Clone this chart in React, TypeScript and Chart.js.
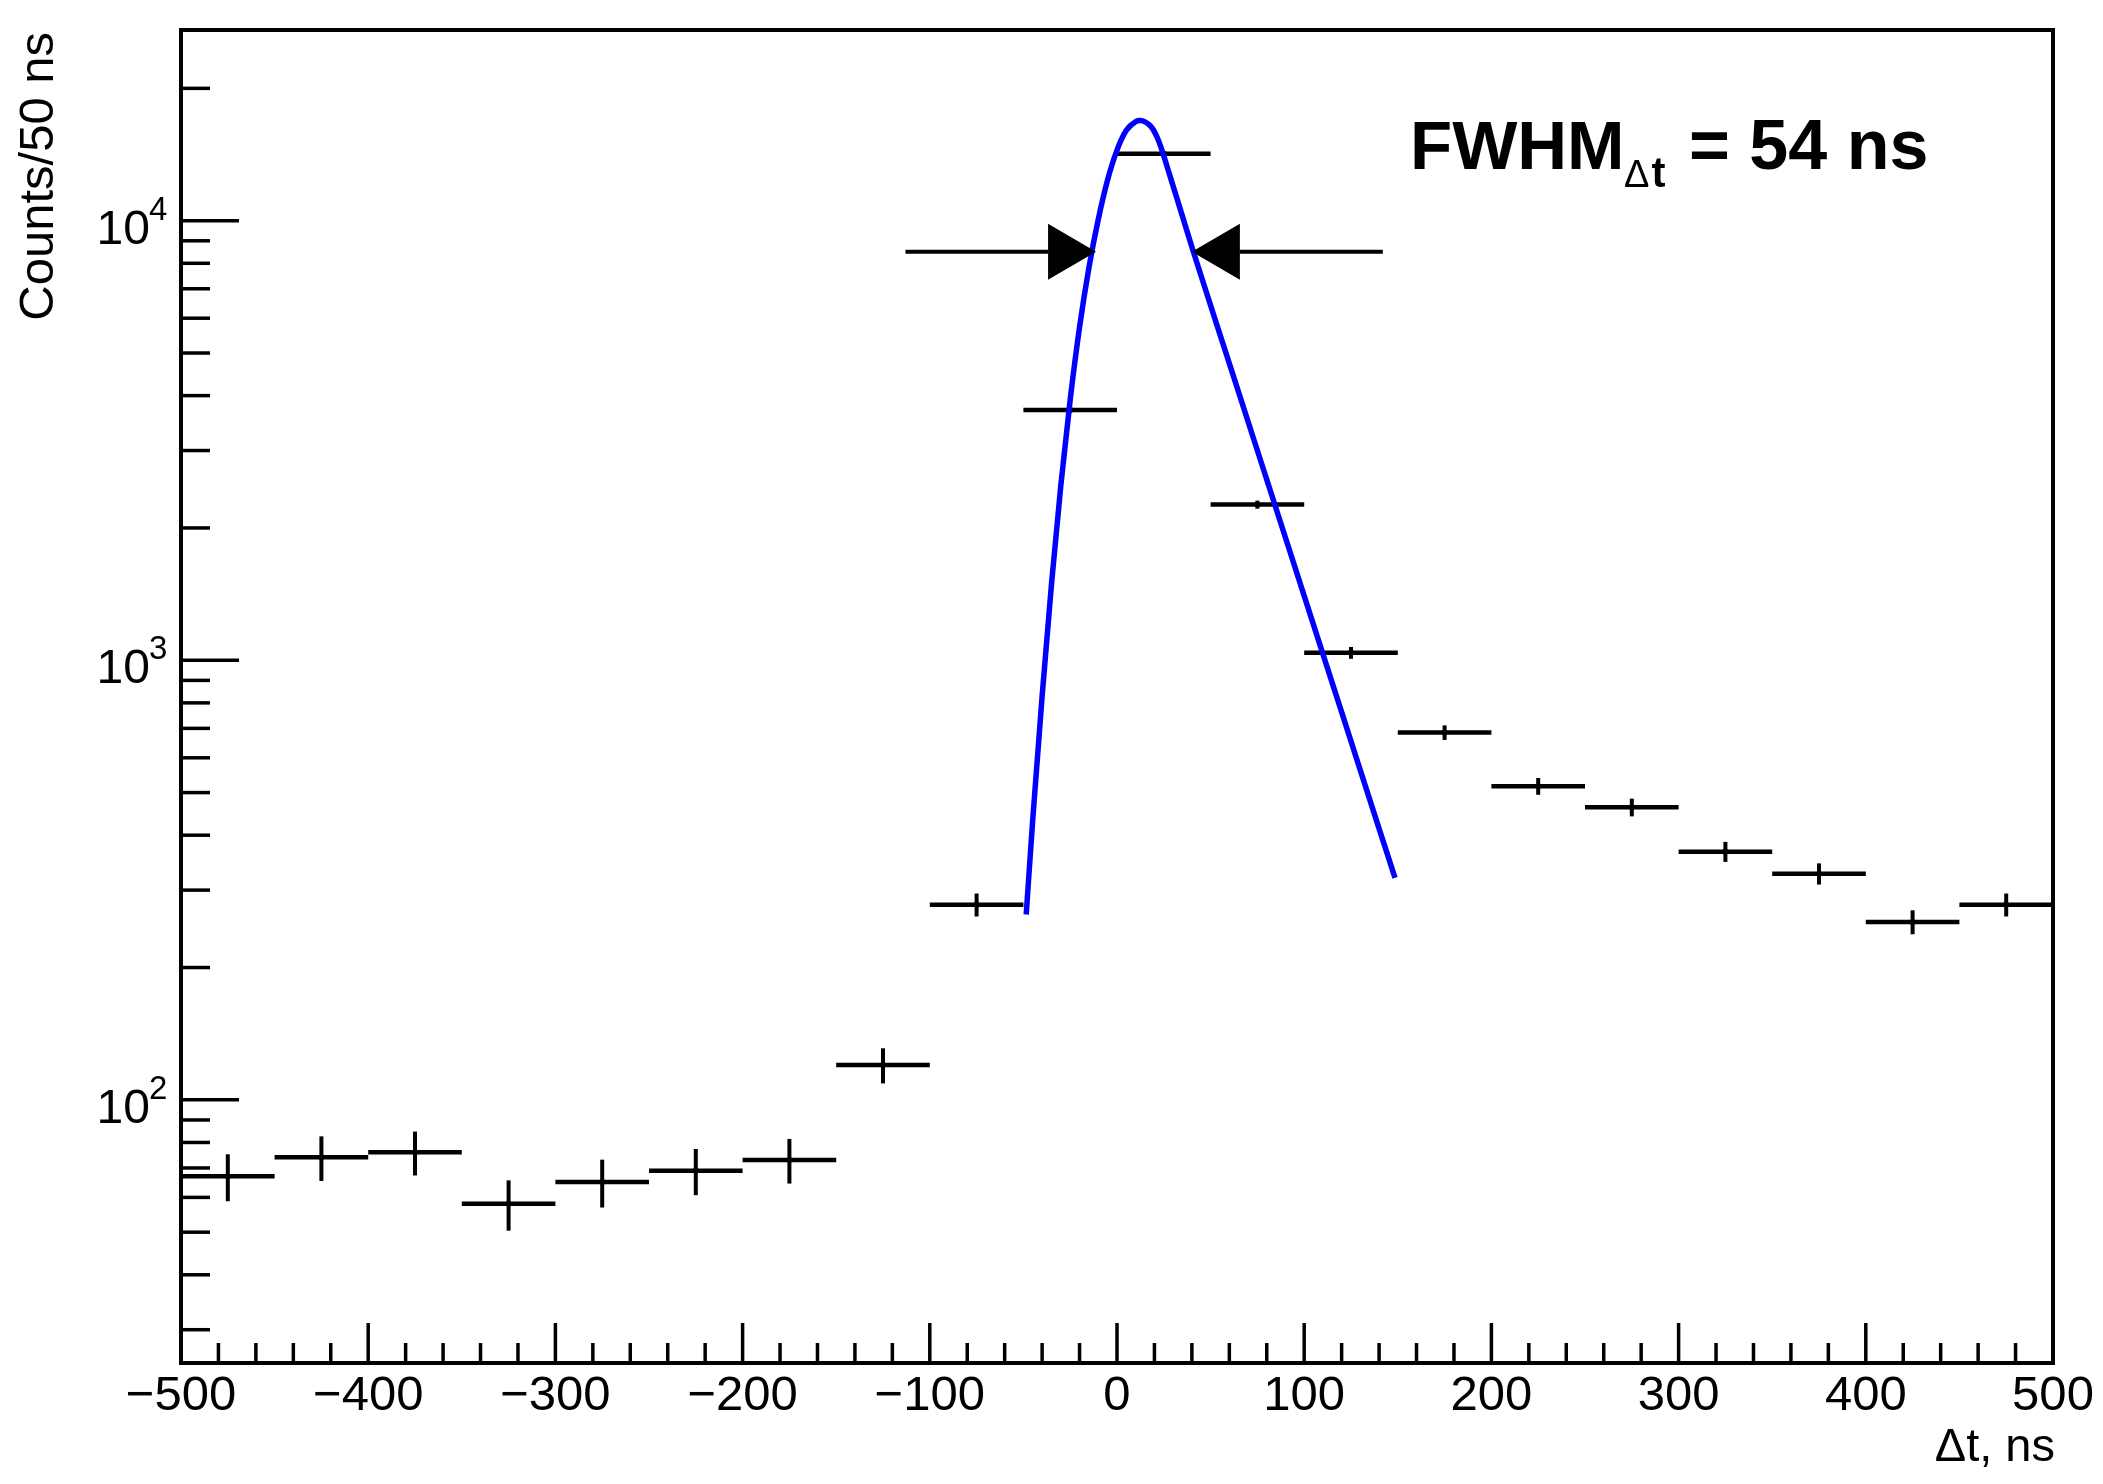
import React, { useEffect, useRef } from "react";
import { Chart, registerables } from "chart.js";

Chart.register(...registerables);

// ---- data ----
const binCenters = [-475, -425, -375, -325, -275, -225, -175, -125, -75, -25, 25, 75, 125, 175, 225, 275, 325, 375, 425, 475];
const binHalfWidth = 25;
const counts = [67, 74, 76, 58, 65, 69, 73, 120, 278, 3710, 14200, 2260, 1040, 685, 517, 463, 367, 327, 254, 278];
const countErrors = [8.2, 8.6, 8.7, 7.6, 8.1, 8.3, 8.5, 11.0, 16.7, 60.9, 119, 47.5, 32.2, 26.2, 22.7, 21.5, 19.2, 18.1, 15.9, 16.7];

const fitX = [-48.5, -45, -40, -35, -30, -25, -20, -15, -10, -5, 0, 5, 10, 12.3, 15, 17.5, 19.4, 22, 24.7, 28, 31.9, 40.8, 60, 80, 100, 120, 140, 148.5];
const fitY = [264, 435, 828, 1489, 2500, 3917, 5728, 7816, 10070, 12390, 14470, 16050, 16810, 16890, 16780, 16480, 16100, 15280, 14170, 12760, 11285, 8496, 4736, 2576, 1401, 762, 414, 320];

const arrowLevel = 8500;
const arrowTailsX = [-113, 142];
const arrowTipsX = [-11.2, 40.0];

const xMin = -500;
const xMax = 500;
const yMin = 25.2;
const yMax = 27150;
const xMajorTicks = [-500, -400, -300, -200, -100, 0, 100, 200, 300, 400, 500];
const xMinorStep = 20;
const yMajorExps = [2, 3, 4];
const yMinorTicks = [30, 40, 50, 60, 70, 80, 90, 200, 300, 400, 500, 600, 700, 800, 900, 2000, 3000, 4000, 5000, 6000, 7000, 8000, 9000, 20000];

const xTitle = "Δt, ns";
const yTitle = "Counts/50 ns";
const fwhmMain = "FWHM";
const fwhmSubDelta = "Δ";
const fwhmSubT = "t";
const fwhmRest = "= 54 ns";

const FONT = '"Liberation Sans", Arial, Helvetica, sans-serif';

const rootPlugin = {
  id: "rootStyle",
  beforeDatasetsDraw(chart: any) {
    const { ctx, chartArea, scales } = chart;
    const x = scales.x;
    const y = scales.y;
    ctx.save();
    ctx.beginPath();
    ctx.rect(chartArea.left, chartArea.top, chartArea.right - chartArea.left, chartArea.bottom - chartArea.top);
    ctx.clip();
    ctx.strokeStyle = "#000";
    ctx.lineCap = "butt";
    binCenters.forEach((c, i) => {
      const py = y.getPixelForValue(counts[i]);
      ctx.lineWidth = 4.5;
      ctx.beginPath();
      ctx.moveTo(x.getPixelForValue(c - binHalfWidth), py);
      ctx.lineTo(x.getPixelForValue(c + binHalfWidth), py);
      ctx.stroke();
      const px = x.getPixelForValue(c);
      ctx.lineWidth = 4;
      ctx.beginPath();
      ctx.moveTo(px, y.getPixelForValue(counts[i] - countErrors[i]));
      ctx.lineTo(px, y.getPixelForValue(counts[i] + countErrors[i]));
      ctx.stroke();
    });
    ctx.restore();
  },
  afterDatasetsDraw(chart: any) {
    const { ctx, chartArea, scales } = chart;
    const x = scales.x;
    const y = scales.y;
    const { left, right, top, bottom } = chartArea;
    ctx.save();

    // arrows
    ctx.strokeStyle = "#000";
    ctx.fillStyle = "#000";
    const ay = y.getPixelForValue(arrowLevel);
    const headLen = 48;
    const headHalf = 28;
    arrowTailsX.forEach((tx, i) => {
      const pTail = x.getPixelForValue(tx);
      const pTip = x.getPixelForValue(arrowTipsX[i]);
      const dir = pTip > pTail ? 1 : -1;
      const base = pTip - dir * headLen;
      ctx.lineWidth = 4;
      ctx.beginPath();
      ctx.moveTo(pTail, ay);
      ctx.lineTo(base, ay);
      ctx.stroke();
      ctx.beginPath();
      ctx.moveTo(pTip, ay);
      ctx.lineTo(base, ay - headHalf);
      ctx.lineTo(base, ay + headHalf);
      ctx.closePath();
      ctx.fill();
    });

    // frame
    ctx.lineWidth = 4;
    ctx.strokeRect(left, top, right - left, bottom - top);

    // x ticks
    ctx.lineWidth = 3.5;
    for (let v = xMin; v <= xMax + 1e-9; v += xMinorStep) {
      const px = x.getPixelForValue(v);
      const major = xMajorTicks.includes(v);
      ctx.beginPath();
      ctx.moveTo(px, bottom);
      ctx.lineTo(px, bottom - (major ? 40 : 20));
      ctx.stroke();
    }
    // y ticks
    yMajorExps.forEach((e) => {
      const py = y.getPixelForValue(Math.pow(10, e));
      ctx.beginPath();
      ctx.moveTo(left, py);
      ctx.lineTo(left + 58, py);
      ctx.stroke();
    });
    yMinorTicks.forEach((v) => {
      const py = y.getPixelForValue(v);
      ctx.beginPath();
      ctx.moveTo(left, py);
      ctx.lineTo(left + 29, py);
      ctx.stroke();
    });

    // x tick labels
    ctx.fillStyle = "#000";
    ctx.font = `49px ${FONT}`;
    ctx.textAlign = "center";
    ctx.textBaseline = "alphabetic";
    xMajorTicks.forEach((v) => {
      const label = v < 0 ? "\u2212" + String(-v) : String(v);
      ctx.fillText(label, x.getPixelForValue(v), bottom + 47);
    });

    // y tick labels
    yMajorExps.forEach((e) => {
      const py = y.getPixelForValue(Math.pow(10, e));
      ctx.font = `48px ${FONT}`;
      ctx.textAlign = "right";
      ctx.fillText("10", 150, py + 23);
      ctx.font = `33px ${FONT}`;
      ctx.textAlign = "left";
      ctx.fillText(String(e), 149, py - 1);
    });

    // axis titles
    ctx.font = `47px ${FONT}`;
    ctx.textAlign = "right";
    ctx.fillText(xTitle, right + 2, 1461);

    ctx.save();
    ctx.translate(53, top + 2);
    ctx.rotate(-Math.PI / 2);
    ctx.font = `49px ${FONT}`;
    ctx.textAlign = "right";
    ctx.fillText(yTitle, 0, 0);
    ctx.restore();

    // FWHM annotation
    ctx.textAlign = "left";
    ctx.font = `bold 69px ${FONT}`;
    ctx.fillText(fwhmMain, 1410, 169);
    ctx.font = `38px ${FONT}`;
    ctx.fillText(fwhmSubDelta, 1624, 187);
    const dW = ctx.measureText(fwhmSubDelta).width;
    ctx.font = `bold 42px ${FONT}`;
    ctx.fillText(fwhmSubT, 1624 + dW + 2, 187);
    ctx.font = `bold 70px ${FONT}`;
    ctx.fillText(fwhmRest, 1689, 169);

    ctx.restore();
  },
};

export default function App() {
  const canvasRef = useRef<HTMLCanvasElement | null>(null);

  useEffect(() => {
    document.body.style.margin = "0";
    document.body.style.overflow = "hidden";
    const canvas = canvasRef.current;
    if (!canvas) return;
    const chart = new Chart(canvas, {
      type: "scatter",
      data: {
        datasets: [
          {
            label: "fit",
            data: fitX.map((v, i) => ({ x: v, y: fitY[i] })),
            showLine: true,
            borderColor: "#0000ff",
            borderWidth: 5.5,
            pointRadius: 0,
            cubicInterpolationMode: "monotone",
            order: 1,
          } as any,
          {
            label: "data",
            data: binCenters.map((c, i) => ({ x: c, y: counts[i] })),
            showLine: false,
            pointRadius: 3,
            pointBackgroundColor: "#000",
            pointBorderColor: "#000",
            pointBorderWidth: 0,
            order: 2,
          } as any,
        ],
      },
      options: {
        animation: false,
        responsive: false,
        devicePixelRatio: 1,
        layout: { padding: { left: 0, right: 50, top: 30, bottom: 0 } },
        plugins: {
          legend: { display: false },
          tooltip: { enabled: false },
          title: { display: false },
        },
        scales: {
          x: {
            type: "linear",
            min: xMin,
            max: xMax,
            ticks: { display: false },
            grid: { display: false },
            border: { display: false },
            afterFit: (s: any) => {
              s.height = 121;
            },
          },
          y: {
            type: "logarithmic",
            min: yMin,
            max: yMax,
            ticks: { display: false },
            grid: { display: false },
            border: { display: false },
            afterFit: (s: any) => {
              s.width = 181;
            },
          },
        },
      } as any,
      plugins: [rootPlugin],
    });
    return () => chart.destroy();
  }, []);

  return (
    <div style={{ position: "absolute", left: 0, top: 0, width: 2103, height: 1484, background: "#fff" }}>
      <canvas ref={canvasRef} width={2103} height={1484} style={{ display: "block", width: 2103, height: 1484 }} />
    </div>
  );
}
